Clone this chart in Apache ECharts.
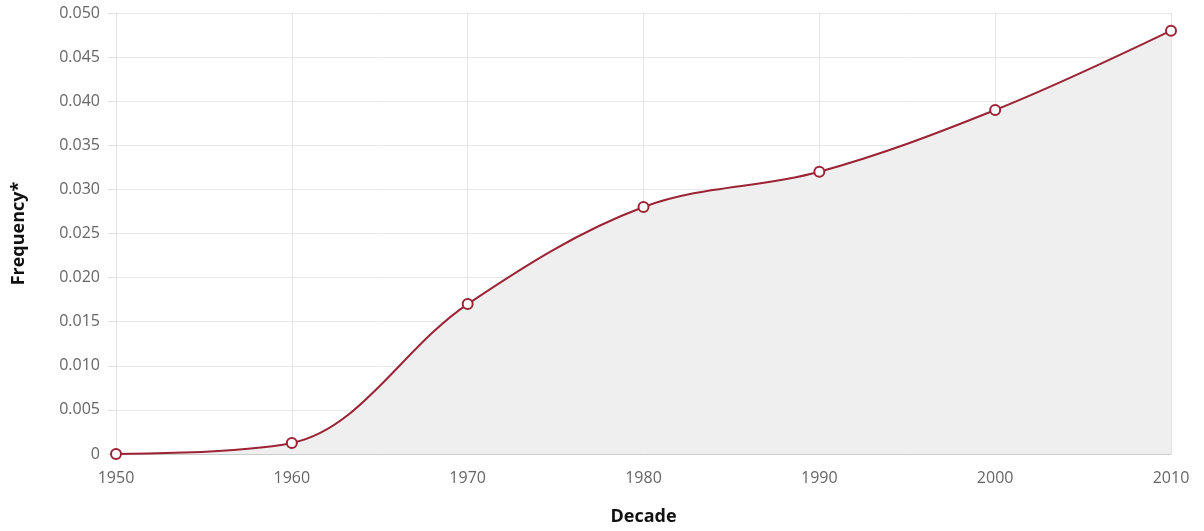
<!DOCTYPE html>
<html>
<head>
<meta charset="utf-8">
<script src="https://cdn.jsdelivr.net/npm/echarts@6/dist/echarts.min.js"></script>
<style>
  html, body { margin: 0; padding: 0; background: #fff; }
  #chart { width: 1204px; height: 531px; }
</style>
</head>
<body>
<div id="chart"></div>
<script>
var decades = ['1950', '1960', '1970', '1980', '1990', '2000', '2010'];
var frequency = [0, 0.00125, 0.017, 0.028, 0.032, 0.039, 0.048];

var myChart = echarts.init(document.getElementById('chart'));

var option = {
  animation: false,
  textStyle: { fontFamily: 'Open Sans' },
  grid: { left: 116, right: 33, top: 13, bottom: 77 },
  xAxis: {
    type: 'category',
    data: decades,
    boundaryGap: false,
    name: 'Decade',
    nameLocation: 'middle',
    nameGap: 54,
    nameTextStyle: { fontSize: 18, fontWeight: 'bold', color: '#111' },
    axisLine: { lineStyle: { color: '#ccc' } },
    axisTick: { show: false },
    axisLabel: { color: '#666', fontSize: 16, margin: 16 },
    splitLine: { show: true, lineStyle: { color: '#e3e3e3' } }
  },
  yAxis: {
    type: 'value',
    min: 0,
    max: 0.05,
    interval: 0.005,
    name: 'Frequency*',
    nameLocation: 'middle',
    nameGap: 88,
    nameTextStyle: { fontSize: 18, fontWeight: 'bold', color: '#111' },
    axisLine: { show: true, lineStyle: { color: '#e0e0e0' } },
    axisTick: { show: true, length: 8, lineStyle: { color: '#e0e0e0' } },
    axisLabel: {
      color: '#666',
      fontSize: 16,
      margin: 16,
      formatter: function (v) { return v === 0 ? '0' : v.toFixed(3); }
    },
    splitLine: { lineStyle: { color: '#e8e8e8' } }
  },
  series: [
    {
      type: 'line',
      data: frequency,
      smooth: 0.35,
      symbol: 'circle',
      symbolSize: 10,
      showAllSymbol: true,
      lineStyle: { color: '#9b2335', width: 2 },
      itemStyle: { color: '#fff', borderColor: '#9b2335', borderWidth: 2 },
      areaStyle: { color: '#efefef', opacity: 1 }
    }
  ]
};

myChart.setOption(option);
</script>
</body>
</html>
